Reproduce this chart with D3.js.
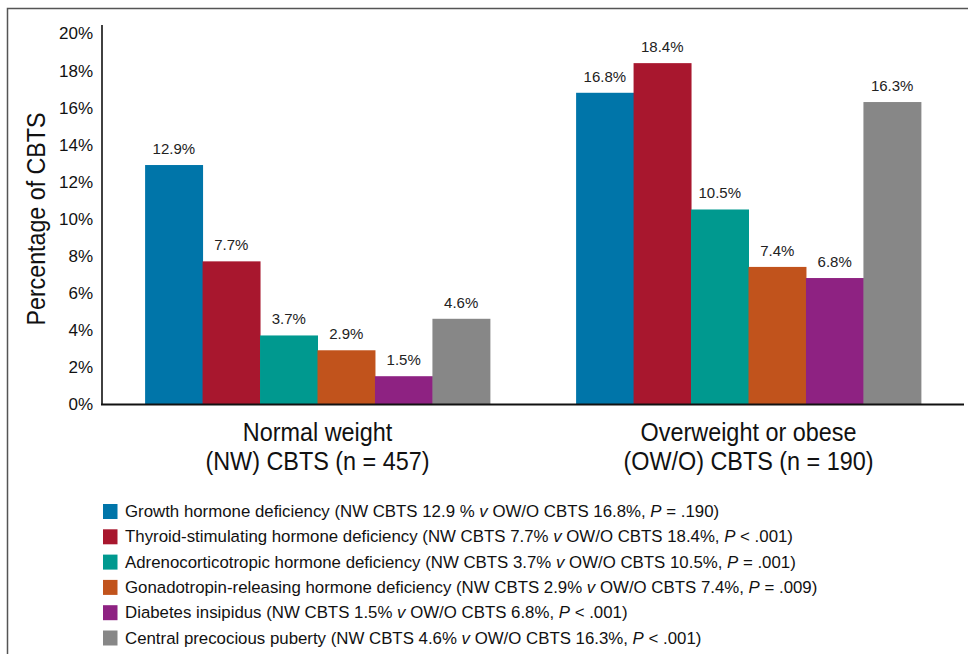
<!DOCTYPE html>
<html>
<head>
<meta charset="utf-8">
<script src="https://cdn.jsdelivr.net/npm/d3@7"></script>
<style>
  body { margin: 0; background: #fff; }
  svg { display: block; }
</style>
</head>
<body>
<script>
// Data
var groupLines = [
    ["Normal weight", "(NW) CBTS (n = 457)"],
    ["Overweight or obese", "(OW/O) CBTS (n = 190)"]
];
var deficiencies = [
    "Growth hormone deficiency",
    "Thyroid-stimulating hormone deficiency",
    "Adrenocorticotropic hormone deficiency",
    "Gonadotropin-releasing hormone deficiency",
    "Diabetes insipidus",
    "Central precocious puberty"
];
var nwValues = [12.9, 7.7, 3.7, 2.9, 1.5, 4.6];
var owValues = [16.8, 18.4, 10.5, 7.4, 6.8, 16.3];
var nwLegendText = ["12.9 %", "7.7%", "3.7%", "2.9%", "1.5%", "4.6%"];
var pText = ["= .190", "< .001", "= .001", "= .009", "< .001", "< .001"];
var yTicks = [0, 2, 4, 6, 8, 10, 12, 14, 16, 18, 20];
var colors = ["#0075A9", "#A8172E", "#00998F", "#C1531C", "#8E2282", "#878787"];

var W = 968, H = 654;
var font = "'Liberation Sans', Arial, sans-serif";

var svg = d3.select("body").append("svg")
    .attr("width", W)
    .attr("height", H);

// outer frame (top and left edges only)
svg.append("path")
    .attr("d", "M7.5,654 V8.5 H968")
    .attr("fill", "none")
    .attr("stroke", "#555")
    .attr("stroke-width", 1.5);

var x0 = d3.scaleBand()
    .domain(d3.range(groupLines.length))
    .range([102, 964])
    .paddingInner(0.2)
    .paddingOuter(0.1);

var x1 = d3.scaleBand()
    .domain(d3.range(deficiencies.length))
    .range([0, x0.bandwidth()]);

var y = d3.scaleLinear()
    .domain([0, 20])
    .range([404, 33.5]);

var series = [nwValues, owValues];

// bars
var groups = svg.selectAll(".group")
    .data(series)
    .enter().append("g")
    .attr("class", "group")
    .attr("transform", function (d, i) { return "translate(" + x0(i) + ",0)"; });

groups.selectAll("rect")
    .data(function (d) { return d; })
    .enter().append("rect")
    .attr("x", function (d, i) { return x1(i); })
    .attr("y", function (d) { return y(d); })
    .attr("width", x1.bandwidth() + 0.5)
    .attr("height", function (d) { return y(0) - y(d); })
    .attr("fill", function (d, i) { return colors[i]; });

groups.selectAll(".val")
    .data(function (d) { return d; })
    .enter().append("text")
    .attr("class", "val")
    .attr("x", function (d, i) { return x1(i) + x1.bandwidth() / 2; })
    .attr("y", function (d) { return y(d) - 11; })
    .attr("text-anchor", "middle")
    .style("font-family", font)
    .style("font-size", "15px")
    .attr("fill", "#222")
    .text(function (d) { return d.toFixed(1) + "%"; });

// y axis
var yAxis = svg.append("g")
    .attr("transform", "translate(102,0)")
    .call(d3.axisLeft(y).tickValues(yTicks).tickSize(0).tickPadding(9)
        .tickFormat(function (d) { return d + "%"; }));
yAxis.select(".domain").remove();
yAxis.selectAll("text")
    .style("font-family", font)
    .style("font-size", "17px")
    .attr("fill", "#111");

svg.append("line")
    .attr("x1", 102).attr("x2", 102)
    .attr("y1", 25).attr("y2", 405)
    .attr("stroke", "#111")
    .attr("stroke-width", 1.6);

svg.append("line")
    .attr("x1", 101).attr("x2", 964)
    .attr("y1", 404.5).attr("y2", 404.5)
    .attr("stroke", "#111")
    .attr("stroke-width", 2);

// y title (condensed look)
svg.append("text")
    .attr("transform", "translate(45,219) rotate(-90) scale(0.93,1)")
    .attr("text-anchor", "middle")
    .style("font-family", font)
    .style("font-size", "25px")
    .attr("fill", "#111")
    .text("Percentage of CBTS");

// group labels
groupLines.forEach(function (lines, i) {
    var cx = x0(i) + x0.bandwidth() / 2;
    lines.forEach(function (line, j) {
        svg.append("text")
            .attr("transform", "translate(" + cx + "," + (441 + j * 29) + ") scale(0.9,1)")
            .attr("text-anchor", "middle")
            .style("font-family", font)
            .style("font-size", "26px")
            .attr("fill", "#111")
            .text(line);
    });
});

// legend
var legend = svg.selectAll(".legend")
    .data(deficiencies)
    .enter().append("g")
    .attr("class", "legend")
    .attr("transform", function (d, i) { return "translate(103," + (504 + i * 25.3) + ")"; });

legend.append("rect")
    .attr("width", 14.5)
    .attr("height", 15)
    .attr("fill", function (d, i) { return colors[i]; });

var lt = legend.append("text")
    .attr("transform", "translate(22,13) scale(0.99,1)")
    .style("font-family", font)
    .style("font-size", "17px")
    .attr("fill", "#111");

lt.append("tspan").text(function (d, i) { return d + " (NW CBTS " + nwLegendText[i] + " "; });
lt.append("tspan").style("font-style", "italic").text("v");
lt.append("tspan").text(function (d, i) { return " OW/O CBTS " + owValues[i].toFixed(1) + "%, "; });
lt.append("tspan").style("font-style", "italic").text("P");
lt.append("tspan").text(function (d, i) { return " " + pText[i] + ")"; });
</script>
</body>
</html>
